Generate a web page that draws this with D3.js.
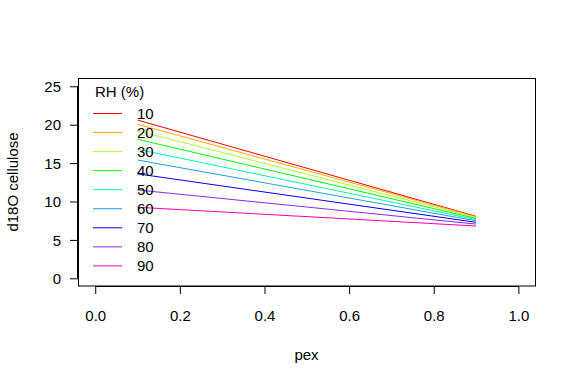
<!DOCTYPE html>
<html><head><meta charset="utf-8">
<script src="https://cdn.jsdelivr.net/npm/d3@7"></script>
<style>body{margin:0;background:#fff}svg{display:block;font-family:"Liberation Sans",Arial,sans-serif}</style>
</head><body><svg id="c" width="576" height="384"></svg>
<script>
const rhLevels = ["10","20","30","40","50","60","70","80","90"];
const pexValues = [0.1, 0.9];
const cellStart = [20.6, 20.05, 19.2, 18.1, 16.8, 15.4, 13.6, 11.5, 9.25];
const cellEnd   = [8.07, 8.01, 7.91, 7.79, 7.64, 7.49, 7.29, 7.06, 6.81];
const colors = ["#FF0000","#FFAA00","#ADFF2F","#00FF00","#00FFAA","#1E9FE6","#0000FF","#8A2BE2","#FF00AA"];
const xTicks = [0, 0.2, 0.4, 0.6, 0.8, 1.0];
const yTicks = [0, 5, 10, 15, 20, 25];

const svg = d3.select("#c");
const x = d3.scaleLinear().domain([-0.04, 1.04]).range([78.3, 535.3]);
const y = d3.scaleLinear().domain([-1, 26]).range([286, 78.6]);

// lines
const line = d3.line().x(d => x(d[0])).y(d => y(d[1]));
rhLevels.forEach((rh, i) => {
  const pts = pexValues.map((p, j) => [p, j === 0 ? cellStart[i] : cellEnd[i]]);
  svg.append("path").attr("d", line(pts)).attr("fill", "none")
    .attr("stroke", colors[i]).attr("stroke-width", 1);
});

// box
svg.append("rect").attr("x", 78.5).attr("y", 78.5).attr("width", 457).attr("height", 207.5)
  .attr("fill", "none").attr("stroke", "#000").attr("stroke-width", 1);

// x axis
const xa = svg.append("g").attr("transform", "translate(0,286)")
  .call(d3.axisBottom(x).tickValues(xTicks).tickFormat(d3.format(".1f")).tickSize(8).tickSizeOuter(0));
xa.select(".domain").attr("d", `M${x(0)},0.5H${x(1)}`);
xa.selectAll("text").attr("font-size", 15).attr("dy", "0").attr("y", 35).attr("fill", "#000")
  .style("font-family", "Liberation Sans, Arial, sans-serif");

// y axis
const ya = svg.append("g").attr("transform", "translate(78,0)")
  .call(d3.axisLeft(y).tickValues(yTicks).tickSize(8).tickSizeOuter(0));
ya.select(".domain").attr("d", `M-0.5,${y(0)}V${y(25)}`);
ya.selectAll("text").attr("font-size", 15).attr("x", -17).attr("dy", "0.35em").attr("fill", "#000")
  .style("font-family", "Liberation Sans, Arial, sans-serif");

// titles
svg.append("text").attr("x", 306.5).attr("y", 360).attr("text-anchor", "middle")
  .attr("font-size", 15).text("pex");
svg.append("text").attr("transform", "translate(18,182) rotate(-90)").attr("text-anchor", "middle")
  .attr("font-size", 15).text("d18O cellulose");

// legend
const leg = svg.append("g");
leg.append("text").attr("x", 95).attr("y", 97).attr("font-size", 15).text("RH (%)");
rhLevels.forEach((rh, i) => {
  const yy = 113.5 + i * 19.05;
  leg.append("line").attr("x1", 93).attr("x2", 122).attr("y1", yy).attr("y2", yy)
    .attr("stroke", colors[i]).attr("stroke-width", 1);
  leg.append("text").attr("x", 137).attr("y", yy).attr("dy", "0.36em").attr("font-size", 15).text(rh);
});
</script></body></html>
